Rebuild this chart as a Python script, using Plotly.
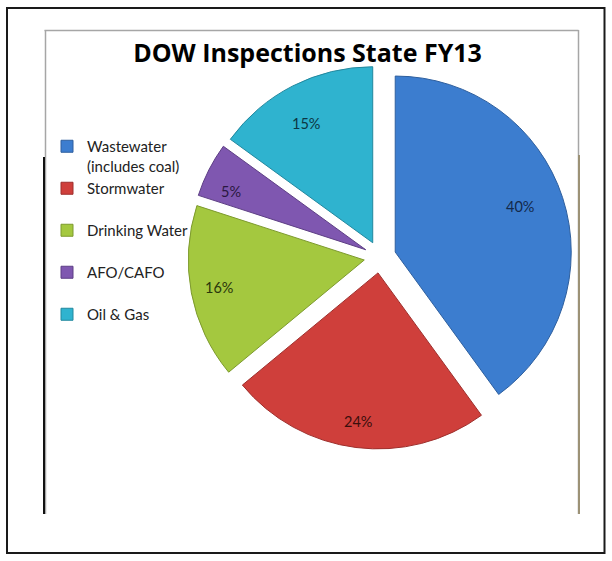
import numpy as np
import plotly.graph_objects as go

# Inspection shares by programme, FY13 (percent)
categories = ["Wastewater<br>(includes coal)", "Stormwater", "Drinking Water", "AFO/CAFO", "Oil & Gas"]
shares = [40, 24, 16, 5, 15]

slice_colors = ["#3C7DCF", "#CF3F3B", "#A4C83F", "#7F57B0", "#2FB3CF"]
edge_colors = ["#2E5F9E", "#9E2F2C", "#7D9A2E", "#5E3F85", "#23889E"]
label_colors = ["#13294A", "#3A0E0C", "#2A360C", "#2A1740", "#0C3644"]

W, H = 612, 561
CX, CY = 380, 257          # pie centre in pixels (from top-left)
R = 176                    # pie radius in pixels
PULL = 0.091               # every slice is exploded by this fraction of R
label_r = [0.84, 0.91, 0.84, 0.86, 0.83]   # label distance from the slice tip, fraction of R


def px(x):
    return x / W


def py(y):
    return 1 - y / H


half = R * (1 + PULL)
# single-line entries get an empty second line so all legend rows share one pitch
legend_names = [c if "<br>" in c else c + "<br> " for c in categories]

fig = go.Figure()
fig.add_trace(go.Pie(
    labels=legend_names,
    values=shares,
    sort=False,
    direction="clockwise",
    rotation=0,
    pull=PULL,
    textinfo="none",
    hovertemplate="%{label}: %{value}%<extra></extra>",
    marker=dict(colors=slice_colors, line=dict(color=edge_colors, width=1)),
    domain=dict(x=[px(CX - half), px(CX + half)], y=[py(CY + half), py(CY - half)]),
))

# percentage labels placed along each slice's bisector
vals = np.array(shares, dtype=float)
mids = (np.cumsum(vals) - vals / 2) / vals.sum() * 2 * np.pi
annotations = []
for v, a, f, c in zip(shares, mids, label_r, label_colors):
    d = PULL * R + f * R
    annotations.append(dict(
        text=f"{v}%", x=px(CX + d * np.sin(a)), y=py(CY - d * np.cos(a)),
        xref="paper", yref="paper", showarrow=False,
        font=dict(family="Lato", size=14.5, color=c),
    ))

# frame lines around the chart
shapes = [
    dict(type="rect", x0=px(7), x1=px(604.5), y0=py(8), y1=py(553),
         line=dict(color="#1a1a1a", width=2)),
    dict(type="line", x0=px(44.5), x1=px(578.5), y0=py(30.5), y1=py(30.5),
         line=dict(color="#a6a6a6", width=1.5)),
    dict(type="line", x0=px(45.5), x1=px(45.5), y0=py(30), y1=py(514),
         line=dict(color="#a6a6a6", width=1.5)),
    dict(type="line", x0=px(578.5), x1=px(578.5), y0=py(30), y1=py(514),
         line=dict(color="#a6a6a6", width=1.5)),
    dict(type="line", x0=px(44), x1=px(44), y0=py(157), y1=py(514),
         line=dict(color="#111111", width=2)),
    dict(type="line", x0=px(579), x1=px(579), y0=py(155), y1=py(514),
         line=dict(color="#9c9276", width=2)),
]

fig.update_layout(
    width=W, height=H, autosize=False,
    margin=dict(l=0, r=0, t=0, b=0),
    paper_bgcolor="white", plot_bgcolor="white",
    title=dict(text="<b>DOW Inspections State FY13</b>", x=px(307.5), y=py(53),
               xanchor="center", yanchor="middle",
               font=dict(family="Open Sans", size=25, color="black")),
    legend=dict(x=px(47), y=py(130), xanchor="left", yanchor="top",
                valign="top", font=dict(family="Lato", size=15, color="#222222"),
                bgcolor="rgba(0,0,0,0)", borderwidth=0),
    showlegend=True,
    annotations=annotations,
    shapes=shapes,
)

fig.write_html("out.html")
